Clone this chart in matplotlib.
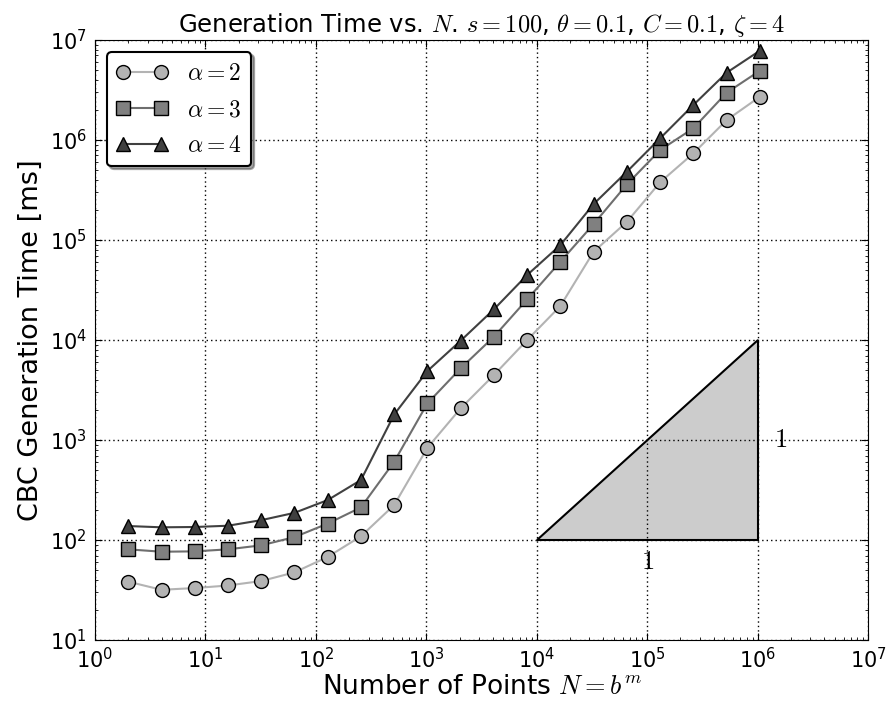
import matplotlib
matplotlib.use("Agg")
import matplotlib.pyplot as plt
import numpy as np

N = [2**k for k in range(1, 21)]
t_a2 = [38.3, 31.8, 33.1, 35.1, 38.9, 47.5, 67.8, 109, 224, 837,
        2075, 4467, 10000, 21900, 76400, 152000, 378000, 736000, 1.58e6, 2.71e6]
t_a3 = [80.7, 76.4, 77, 80.7, 88.5, 107, 146, 212, 607, 2328,
        5210, 10800, 25500, 60700, 144500, 360000, 794000, 1.31e6, 2.97e6, 4.93e6]
t_a4 = [138, 134, 135, 139, 158, 187, 251, 398, 1800, 4900,
        9840, 20270, 44700, 89000, 229000, 482000, 1.04e6, 2.24e6, 4.71e6, 7.82e6]
labels = [r"$\alpha=2$", r"$\alpha=3$", r"$\alpha=4$"]
tri_x = [1e4, 1e6, 1e6]
tri_y = [1e2, 1e2, 1e4]

plt.rcParams['mathtext.fontset'] = 'cm'
plt.rcParams['xtick.direction'] = 'in'
plt.rcParams['ytick.direction'] = 'in'
plt.rcParams['xtick.top'] = True
plt.rcParams['ytick.right'] = True
plt.rcParams['xtick.major.size'] = 5
plt.rcParams['ytick.major.size'] = 5
plt.rcParams['xtick.minor.size'] = 2.5
plt.rcParams['ytick.minor.size'] = 2.5
plt.rcParams['xtick.major.pad'] = 5
plt.rcParams['ytick.major.pad'] = 6

fig = plt.figure(figsize=(8.88, 7.08), dpi=100)
ax = fig.add_axes([0.107, 0.096, 0.8705, 0.8475])

styles = [
    dict(marker='o', color='#b3b3b3', mfc='#b3b3b3'),
    dict(marker='s', color='#6e6e6e', mfc='#808080'),
    dict(marker='^', color='#404040', mfc='#404040'),
]
for y, lab, st in zip([t_a2, t_a3, t_a4], labels, styles):
    ax.plot(N, y, marker=st['marker'], color=st['color'], mfc=st['mfc'],
            mec='black', mew=1.0, ms=10, lw=1.5, label=lab)

ax.fill(tri_x, tri_y, facecolor='#cccccc', edgecolor='black', lw=1.5, zorder=1)
ax.text(1e5, 60, r"$1$", fontsize=19, ha='center', va='center')
ax.text(1.6e6, 1e3, r"$1$", fontsize=19, ha='center', va='center')

ax.set_xscale('log')
ax.set_yscale('log')
ax.set_xlim(1, 1e7)
ax.set_ylim(10, 1e7)
ax.grid(True, which='major', linestyle=(0, (1, 2.2)), color='black', lw=1.0)
ax.tick_params(labelsize=15)
ax.set_xlabel(r"Number of Points $N=b^m$", fontsize=19, labelpad=1)
ax.set_ylabel("CBC Generation Time [ms]", fontsize=19.5)
ax.set_title(r"Generation Time vs. $N$. $s=100$, $\theta=0.1$, $C=0.1$, $\zeta=4$",
             fontsize=17.5)
leg = ax.legend(loc='upper left', fontsize=17, fancybox=True, shadow=True,
                framealpha=1, edgecolor='black', numpoints=2, handlelength=2.2)
leg.get_frame().set_linewidth(1.5)

fig.savefig("out.png", dpi=100)
